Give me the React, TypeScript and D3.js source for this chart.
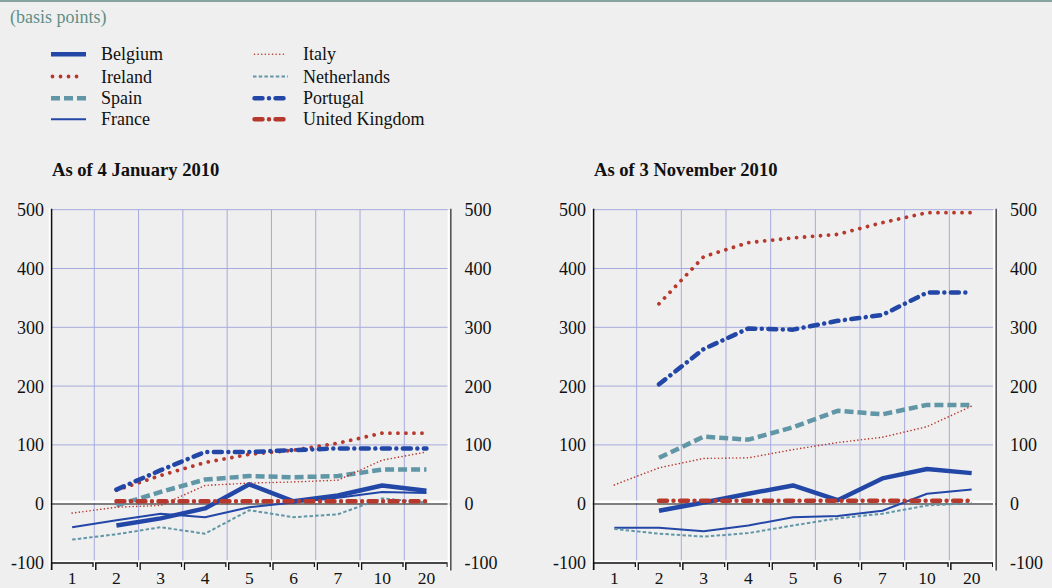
import React from 'react';
import * as d3 from 'd3';

const categories = ["1", "2", "3", "4", "5", "6", "7", "10", "20"];
const yTicks = [500, 400, 300, 200, 100, 0, -100];

// As of 4 January 2010
const belgiumJan = [null, -37, -25, -8, 33, 4, 14, 31, 22];
const irelandJan = [null, 23, 48, 70, 84, 91, 103, 120, 120];
const spainJan = [null, -3, 20, 41, 47, 45, 47, 58, 58];
const franceJan = [-40, -28, -17, -23, -6, 2, 10, 20, 18];
const italyJan = [-16, -6, -3, 31, 35, 37, 40, 74, 88];
const netherlandsJan = [-61, -52, -40, -51, -11, -23, -18, 9, 2];
const portugalJan = [null, 24, 57, 88, 88, 91, 94, 94, 94];
const ukJan = [null, 4, 4, 4, 4, 4, 4, 4, 4];

// As of 3 November 2010
const belgiumNov = [null, -12, 2, 17, 31, 6, 43, 59, 52];
const irelandNov = [null, 340, 420, 444, 452, 458, 478, 495, 495];
const spainNov = [null, 78, 114, 109, 130, 158, 152, 168, 168];
const franceNov = [-41, -41, -47, -37, -23, -21, -12, 17, 24];
const italyNov = [32, 61, 77, 78, 92, 104, 113, 131, 166];
const netherlandsNov = [-43, -51, -56, -50, -37, -25, -17, -3, 1];
const portugalNov = [null, 203, 263, 298, 296, 311, 321, 359, 359];
const ukNov = [null, 5, 5, 5, 5, 5, 5, 5, 5];

const countries = ["Belgium", "Ireland", "Spain", "France", "Italy", "Netherlands", "Portugal", "United Kingdom"];

const BLUE = "#2347a6";
const RED = "#b7392d";
const TEAL = "#6196a6";

type LineStyle = { color: string; width: number; dash?: string; cap: "round" | "butt" };
const lineStyles: Record<string, LineStyle> = {
  Belgium: { color: BLUE, width: 4.5, cap: "butt" },
  Ireland: { color: RED, width: 3.8, dash: "0.01 8", cap: "round" },
  Spain: { color: TEAL, width: 4.5, dash: "9 4", cap: "butt" },
  France: { color: BLUE, width: 2, cap: "butt" },
  Italy: { color: RED, width: 1.6, dash: "0.01 3.6", cap: "round" },
  Netherlands: { color: TEAL, width: 2, dash: "3.5 2.2", cap: "butt" },
  Portugal: { color: BLUE, width: 4.5, dash: "8 6.5 0.01 6.5", cap: "round" },
  "United Kingdom": { color: RED, width: 4.5, dash: "8 6.5 0.01 6.5", cap: "round" },
};

const FONT = "'Liberation Serif', 'Times New Roman', serif";

type PanelProps = {
  x0: number;
  x1: number;
  title: string;
  data: (number | null)[][];
};

function Panel({ x0, x1, title, data }: PanelProps) {
  const x = d3.scaleBand<string>().domain(categories).range([x0, x1]).padding(0);
  const y = d3.scaleLinear().domain([-100, 500]).range([562.5, 209.7]);
  const bw = x.bandwidth();
  const yTop = y(500);
  const yBot = y(-100);
  const y0 = y(0);

  const line = d3
    .line<[string, number | null]>()
    .defined((d) => d[1] !== null)
    .x((d) => (x(d[0]) as number) + bw / 2)
    .y((d) => y(d[1] as number));

  const boundaries = d3.range(0, categories.length + 1).map((k) => x0 + k * bw);

  return (
    <g>
      <text x={x0 + 2} y={176} fontFamily={FONT} fontSize={18.6} fontWeight="bold" fill="#111">
        {title}
      </text>
      {/* vertical gridlines */}
      {boundaries.slice(1, -1).map((bx, i) => (
        <line key={"vg" + i} x1={bx} x2={bx} y1={yTop} y2={yBot} stroke="#a6aadd" strokeWidth={1} />
      ))}
      {/* horizontal gridlines */}
      {yTicks
        .filter((t) => t > 0)
        .map((t) => (
          <line key={"hg" + t} x1={x0} x2={x1} y1={y(t)} y2={y(t)} stroke="#a6aadd" strokeWidth={1} />
        ))}
      {/* zero line */}
      <line x1={x0} x2={x1 + 2} y1={y0 - 2} y2={y0 - 2} stroke="#ffffff" strokeWidth={2.5} />
      <line x1={x0} x2={x1 + 2} y1={y0 + 0.3} y2={y0 + 0.3} stroke="#111" strokeWidth={1.2} />
      {/* bottom axis */}
      <line x1={x0} x2={x1 + 2} y1={yBot - 1.2} y2={yBot - 1.2} stroke="#ffffff" strokeWidth={1.6} />
      {boundaries.slice(0, -1).map((bx, k) => (
        <path
          key={"br" + k}
          d={`M${bx + 1.5},${yBot + 7.5}V${yBot + 0.5}H${boundaries[k + 1] - 1.2}V${yBot + 4.5}`}
          fill="none"
          stroke="#111"
          strokeWidth={1.5}
        />
      ))}
      {boundaries.slice(1).map((bx, k) => (
        <line key={"wg" + k} x1={bx + 0.1} x2={bx + 0.1} y1={yBot} y2={yBot + 8} stroke="#ffffff" strokeWidth={1.2} />
      ))}
      {/* left axis */}
      <line x1={x0 - 0.2} x2={x0 - 0.2} y1={yTop - 2} y2={yBot + 7} stroke="#ffffff" strokeWidth={2} />
      <line x1={x0 + 1.6} x2={x0 + 1.6} y1={yTop - 1} y2={yBot + 7.5} stroke="#111" strokeWidth={1.5} />
      {/* right axis */}
      <line x1={x1} x2={x1} y1={yTop} y2={yBot + 7} stroke="#ffffff" strokeWidth={2} />
      <line x1={x1 + 2.2} x2={x1 + 2.2} y1={yTop - 1} y2={yBot + 8} stroke="#555" strokeWidth={1.6} />
      {/* data lines */}
      {countries.map((c, i) => {
        const st = lineStyles[c];
        const pts = categories.map((cat, j) => [cat, data[i][j]] as [string, number | null]);
        return (
          <path
            key={c}
            d={line(pts) || ""}
            fill="none"
            stroke={st.color}
            strokeWidth={st.width}
            strokeDasharray={st.dash}
            strokeLinecap={st.cap}
            strokeLinejoin="round"
          />
        );
      })}
      {/* y tick labels */}
      {yTicks.map((t) => (
        <g key={"yl" + t}>
          <text x={x0 - 6} y={y(t) + 6.5} textAnchor="end" fontFamily={FONT} fontSize={18} fill="#111">
            {t}
          </text>
          <text x={x1 + 16} y={y(t) + 6.5} textAnchor="start" fontFamily={FONT} fontSize={18} fill="#111">
            {t}
          </text>
        </g>
      ))}
      {/* x tick labels */}
      {categories.map((c) => (
        <text
          key={"xl" + c}
          x={(x(c) as number) + bw / 2}
          y={584}
          textAnchor="middle"
          fontFamily={FONT}
          fontSize={17.5}
          fill="#111"
        >
          {c}
        </text>
      ))}
    </g>
  );
}

function Legend() {
  const rows = [54.3, 76.5, 98.2, 119.2];
  return (
    <g>
      {countries.map((c, i) => {
        const col = Math.floor(i / 4);
        const row = i % 4;
        const lx = col === 0 ? 51 : 253;
        const ly = rows[row];
        const st = lineStyles[c];
        return (
          <g key={c}>
            <line
              x1={lx + (st.cap === "round" ? 1.5 : 0)}
              x2={lx + 35 - (st.cap === "round" ? 1.5 : 0)}
              y1={ly}
              y2={ly}
              stroke={st.color}
              strokeWidth={st.width}
              strokeDasharray={st.dash}
              strokeLinecap={st.cap}
            />
            <text x={lx + 50} y={ly + 6} fontFamily={FONT} fontSize={18} fill="#111">
              {c}
            </text>
          </g>
        );
      })}
    </g>
  );
}

export default function App() {
  const janData = [belgiumJan, irelandJan, spainJan, franceJan, italyJan, netherlandsJan, portugalJan, ukJan];
  const novData = [belgiumNov, irelandNov, spainNov, franceNov, italyNov, netherlandsNov, portugalNov, ukNov];
  return (
    <svg
      width={1052}
      height={588}
      style={{ position: "absolute", left: 0, top: 0, display: "block" }}
    >
      <rect x={0} y={0} width={1052} height={588} fill="#efefef" />
      <line x1={0} x2={1052} y1={1} y2={1} stroke="#86a39f" strokeWidth={2} />
      <text x={10} y={23} fontFamily={FONT} fontSize={18} fill="#5f8f86">
        (basis points)
      </text>
      <Legend />
      <Panel x0={50} x1={448.6} title="As of 4 January 2010" data={janData} />
      <Panel x0={592} x1={994} title="As of 3 November 2010" data={novData} />
    </svg>
  );
}
